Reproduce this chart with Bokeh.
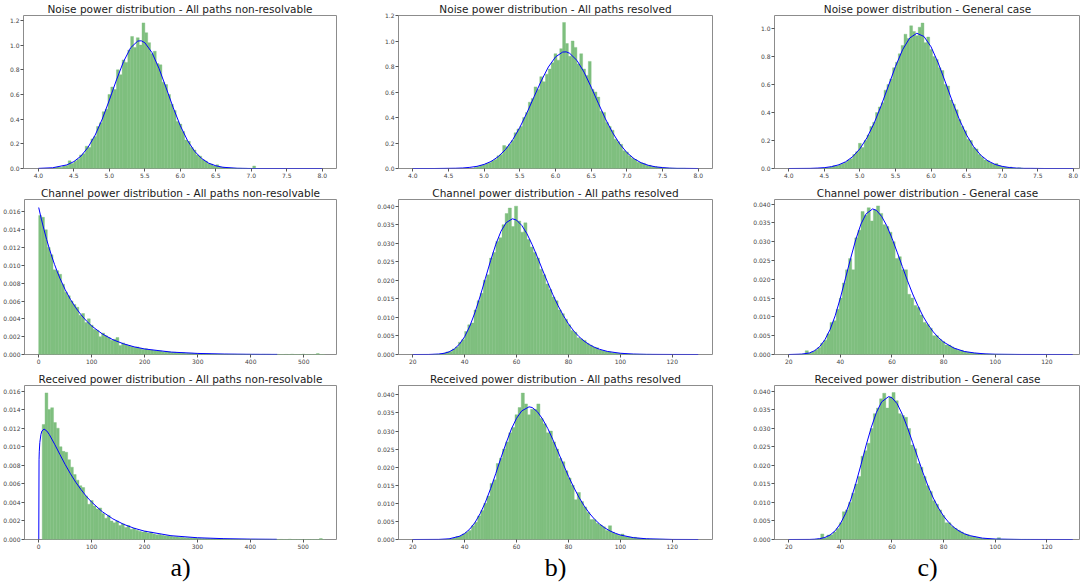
import numpy as np
from bokeh.plotting import figure
from bokeh.layouts import row, column
from bokeh.models import Range1d, FixedTicker, PrintfTickFormatter
from bokeh.embed import file_html
from bokeh.resources import INLINE

# ---------------- titles ----------------
titles = [
    "Noise power distribution - All paths non-resolvable",
    "Noise power distribution - All paths resolved",
    "Noise power distribution - General case",
    "Channel power distribution - All paths non-resolvable",
    "Channel power distribution - All paths resolved",
    "Channel power distribution - General case",
    "Received power distribution - All paths non-resolvable",
    "Received power distribution - All paths resolved",
    "Received power distribution - General case",
]
case_labels = ["a)", "b)", "c)"]

# ---------------- tick labels ----------------
noise_xticks = [4.0, 4.5, 5.0, 5.5, 6.0, 6.5, 7.0, 7.5, 8.0]
noise_yticks_12 = [0.0, 0.2, 0.4, 0.6, 0.8, 1.0, 1.2]
noise_yticks_10 = [0.0, 0.2, 0.4, 0.6, 0.8, 1.0]
nonres_xticks = [0, 100, 200, 300, 400, 500]
nonres_yticks = [0.0, 0.002, 0.004, 0.006, 0.008, 0.010, 0.012, 0.014, 0.016]
res_xticks = [20, 40, 60, 80, 100, 120]
res_yticks = [0.0, 0.005, 0.010, 0.015, 0.020, 0.025, 0.030, 0.035, 0.040]

# ---------------- histograms (bin start, bin width, densities) ----------------
noise_a_start, noise_a_width = 4.22, 0.04
noise_a_hist = [0.008, 0.012, 0.010, 0.020, 0.025, 0.062, 0.040, 0.058, 0.075, 0.110,
                0.120, 0.180, 0.170, 0.240, 0.260, 0.340, 0.370, 0.460, 0.480, 0.600,
                0.660, 0.640, 0.800, 0.760, 0.880, 0.860, 0.960, 1.070, 0.980, 1.060,
                1.000, 1.180, 1.100, 1.020, 0.930, 0.950, 0.850, 0.840, 0.700, 0.680,
                0.600, 0.520, 0.470, 0.380, 0.360, 0.300, 0.230, 0.220, 0.170, 0.150,
                0.110, 0.100, 0.070, 0.060, 0.040, 0.035, 0.020, 0.030, 0.012, 0.010,
                0.008, 0.005, 0.004, 0.003, 0.002, 0.002, 0.001, 0.001, 0.000, 0.001,
                0.020, 0.000]
noise_b_start, noise_b_width = 4.86, 0.04
noise_b_hist = [0.010, 0.015, 0.025, 0.030, 0.040, 0.045, 0.060, 0.070, 0.100,
                0.110, 0.180, 0.170, 0.190, 0.220, 0.280, 0.310, 0.330, 0.400, 0.440,
                0.520, 0.550, 0.640, 0.620, 0.720, 0.680, 0.740, 0.780, 0.830, 0.900,
                0.850, 0.940, 1.145, 0.980, 0.880, 1.000, 0.950, 0.820, 0.900, 0.780,
                0.730, 0.840, 0.620, 0.600, 0.560, 0.450, 0.440, 0.360, 0.330, 0.300,
                0.230, 0.210, 0.190, 0.140, 0.130, 0.100, 0.080, 0.070, 0.050, 0.045,
                0.040, 0.025, 0.025, 0.015, 0.015, 0.010, 0.010, 0.005, 0.004, 0.003,
                0.002, 0.002, 0.001, 0.001, 0.001]
noise_c_start, noise_c_width = 4.46, 0.04
noise_c_hist = [0.003, 0.005, 0.008, 0.012, 0.020, 0.018, 0.028, 0.035, 0.045, 0.060,
                0.070, 0.100, 0.120, 0.180, 0.150, 0.200, 0.240, 0.300, 0.330, 0.400,
                0.440, 0.470, 0.560, 0.600, 0.640, 0.720, 0.760, 0.820, 0.880, 0.960,
                0.930, 1.020, 0.980, 0.950, 1.010, 1.040, 0.900, 0.940, 0.850, 0.800,
                0.780, 0.720, 0.700, 0.600, 0.590, 0.490, 0.460, 0.420, 0.350, 0.300,
                0.270, 0.210, 0.200, 0.150, 0.140, 0.100, 0.080, 0.060, 0.055, 0.040,
                0.030, 0.035, 0.020, 0.015, 0.010, 0.008, 0.010, 0.004, 0.002, 0.005,
                0.002]
chan_a_start, chan_a_width = 0.0, 5.4
chan_a_hist = [0.01560, 0.01540, 0.01400, 0.01200, 0.01120, 0.00950, 0.00940, 0.00900, 0.00790, 0.00700,
               0.00660, 0.00600, 0.00560, 0.00530, 0.00440, 0.00460, 0.00360, 0.00400, 0.00330, 0.00280,
               0.00270, 0.00200, 0.00240, 0.00210, 0.00190, 0.00160, 0.00170, 0.00190, 0.00100, 0.00130,
               0.00110, 0.00100, 0.00090, 0.00080, 0.00085, 0.00070, 0.00060, 0.00065, 0.00050, 0.00050,
               0.00045, 0.00040, 0.00040, 0.00030, 0.00035, 0.00030, 0.00025, 0.00025, 0.00020, 0.00020,
               0.00020, 0.00015, 0.00015, 0.00015, 0.00010, 0.00012, 0.00010, 0.00010, 0.00008, 0.00008,
               0.00006, 0.00006, 0.00005, 0.00005, 0.00004, 0.00004, 0.00003, 0.00003, 0.00003, 0.00002,
               0.00002, 0.00002, 0.00001, 0.00002, 0.00001, 0.00001, 0.00001, 0.00000, 0.00001, 0.00001,
               0.00001, 0.00000, 0.00000, 0.00001, 0.00000, 0.00000, 0.00001, 0.00000, 0.00003, 0.00000,
               0.00000, 0.00000, 0.00003, 0.00000, 0.00000, 0.00000, 0.00000, 0.00010, 0.00000, 0.00000]
chan_b_start, chan_b_width = 28.0, 1.2
chan_b_hist = [0.00005, 0.00010, 0.00020, 0.00040, 0.00070, 0.00080, 0.00150, 0.00200, 0.00330, 0.00400,
               0.00620, 0.00800, 0.00850, 0.01200, 0.01450, 0.01650, 0.02000, 0.02150, 0.02600, 0.02750,
               0.03050, 0.03150, 0.03500, 0.03800, 0.03950, 0.03450, 0.04000, 0.03600, 0.03300, 0.03550,
               0.03100, 0.02900, 0.02750, 0.02600, 0.02300, 0.02150, 0.01900, 0.01750, 0.01550, 0.01450,
               0.01200, 0.01100, 0.00950, 0.00800, 0.00650, 0.00600, 0.00450, 0.00420, 0.00380, 0.00300,
               0.00250, 0.00200, 0.00180, 0.00120, 0.00100, 0.00080, 0.00070, 0.00050, 0.00040, 0.00035,
               0.00030, 0.00020, 0.00015, 0.00012, 0.00010, 0.00008, 0.00005, 0.00005, 0.00003, 0.00003]
chan_c_start, chan_c_width = 24.0, 1.2
chan_c_hist = [0.00005, 0.00010, 0.00100, 0.00040, 0.00070, 0.00120, 0.00180, 0.00300, 0.00380, 0.00550,
               0.00850, 0.00900, 0.01200, 0.01500, 0.01900, 0.02250, 0.02550, 0.02250, 0.03100, 0.03300,
               0.03800, 0.03700, 0.03900, 0.03550, 0.03850, 0.03950, 0.03750, 0.03450, 0.03400, 0.03250,
               0.03000, 0.02550, 0.02600, 0.02250, 0.02250, 0.01600, 0.01500, 0.01300, 0.01250, 0.01050,
               0.00850, 0.00800, 0.00700, 0.00500, 0.00500, 0.00400, 0.00350, 0.00250, 0.00250, 0.00200,
               0.00150, 0.00110, 0.00110, 0.00080, 0.00060, 0.00050, 0.00040, 0.00030, 0.00025, 0.00020,
               0.00015, 0.00010, 0.00008, 0.00006, 0.00005, 0.00004, 0.00003, 0.00002, 0.00002, 0.00001]
recv_a_start, recv_a_width = 6.5, 5.35
recv_a_hist = [0.01240, 0.01580, 0.01400, 0.01420, 0.01260, 0.01200, 0.01000, 0.00950, 0.00940, 0.00860,
               0.00780, 0.00700, 0.00640, 0.00580, 0.00560, 0.00470, 0.00380, 0.00420, 0.00360, 0.00330,
               0.00340, 0.00280, 0.00230, 0.00260, 0.00200, 0.00180, 0.00200, 0.00150, 0.00170, 0.00130,
               0.00150, 0.00110, 0.00120, 0.00100, 0.00090, 0.00080, 0.00090, 0.00070, 0.00080, 0.00060,
               0.00050, 0.00055, 0.00045, 0.00040, 0.00040, 0.00035, 0.00030, 0.00030, 0.00025, 0.00025,
               0.00020, 0.00020, 0.00018, 0.00015, 0.00015, 0.00013, 0.00012, 0.00010, 0.00010, 0.00009,
               0.00008, 0.00007, 0.00007, 0.00010, 0.00006, 0.00005, 0.00005, 0.00004, 0.00004, 0.00003,
               0.00003, 0.00003, 0.00002, 0.00002, 0.00002, 0.00002, 0.00001, 0.00001, 0.00001, 0.00001,
               0.00001, 0.00000, 0.00001, 0.00000, 0.00001, 0.00000, 0.00000, 0.00003, 0.00000, 0.00000,
               0.00000, 0.00000, 0.00000, 0.00000, 0.00000, 0.00000, 0.00000, 0.00000, 0.00010, 0.00000]
recv_b_start, recv_b_width = 33.0, 1.2
recv_b_hist = [0.00010, 0.00020, 0.00040, 0.00080, 0.00100, 0.00150, 0.00200, 0.00250, 0.00380, 0.00480,
               0.00650, 0.00800, 0.01000, 0.01200, 0.01550, 0.01650, 0.02100, 0.02250, 0.02500, 0.02700,
               0.02950, 0.03100, 0.03450, 0.03650, 0.04050, 0.03750, 0.03450, 0.03600, 0.03600, 0.03750,
               0.03350, 0.03200, 0.02950, 0.03000, 0.02700, 0.02500, 0.02250, 0.02150, 0.01900, 0.01700,
               0.01500, 0.01100, 0.01300, 0.01050, 0.00900, 0.00750, 0.00550, 0.00550, 0.00450, 0.00400,
               0.00350, 0.00250, 0.00380, 0.00200, 0.00150, 0.00120, 0.00150, 0.00080, 0.00070, 0.00060,
               0.00060, 0.00040, 0.00030, 0.00025, 0.00020, 0.00015, 0.00010, 0.00008, 0.00005, 0.00004]
recv_c_start, recv_c_width = 30.0, 1.2
recv_c_hist = [0.00005, 0.00020, 0.00150, 0.00050, 0.00120, 0.00130, 0.00200, 0.00300, 0.00450, 0.00750,
               0.00800, 0.01000, 0.01250, 0.01500, 0.01700, 0.02250, 0.02400, 0.02600, 0.03000, 0.03400,
               0.03550, 0.03800, 0.03950, 0.03550, 0.03850, 0.03970, 0.03750, 0.03400, 0.03350, 0.03300,
               0.03000, 0.02550, 0.02450, 0.02050, 0.01950, 0.01700, 0.01450, 0.01300, 0.01050, 0.00950,
               0.00800, 0.00650, 0.00450, 0.00450, 0.00350, 0.00300, 0.00250, 0.00200, 0.00150, 0.00130,
               0.00090, 0.00080, 0.00060, 0.00040, 0.00030, 0.00025, 0.00020, 0.00015, 0.00012, 0.00050,
               0.00008, 0.00006, 0.00004, 0.00003, 0.00002, 0.00002, 0.00001, 0.00001, 0.00001, 0.00001]

# ---------------- fitted curves ----------------
noise_a_cx = [4.0, 4.2, 4.4, 4.5, 4.6, 4.7, 4.8, 4.9, 5.0, 5.1, 5.2, 5.3, 5.4, 5.45, 5.5, 5.6, 5.7,
              5.8, 5.9, 6.0, 6.1, 6.2, 6.3, 6.4, 6.5, 6.6, 6.8, 7.0, 7.5, 8.0]
noise_a_cy = [0.001, 0.006, 0.029, 0.056, 0.101, 0.172, 0.271, 0.401, 0.555, 0.718, 0.867, 0.979, 1.033,
              1.035, 1.019, 0.940, 0.810, 0.653, 0.492, 0.346, 0.228, 0.140, 0.081, 0.043, 0.022, 0.010,
              0.002, 0.000, 0.000, 0.000]
noise_b_cx = [4.0, 4.3, 4.6, 4.7, 4.8, 4.9, 5.0, 5.1, 5.2, 5.3, 5.4, 5.5, 5.6, 5.7, 5.8, 5.9, 6.0, 6.1,
              6.15, 6.2, 6.3, 6.4, 6.5, 6.6, 6.7, 6.8, 6.9, 7.0, 7.1, 7.2, 7.3, 7.4, 7.5, 7.6, 7.7, 7.8, 8.0]
noise_b_cy = [0.0, 0.0, 0.002, 0.004, 0.009, 0.017, 0.032, 0.056, 0.094, 0.149, 0.225, 0.322, 0.437,
              0.563, 0.687, 0.796, 0.875, 0.913, 0.915, 0.903, 0.848, 0.756, 0.638, 0.512, 0.389, 0.281,
              0.193, 0.125, 0.077, 0.045, 0.025, 0.013, 0.007, 0.003, 0.001, 0.001, 0.0]
noise_c_cx = [4.0, 4.3, 4.4, 4.5, 4.6, 4.7, 4.8, 4.9, 5.0, 5.1, 5.2, 5.3, 5.4, 5.5, 5.6, 5.7, 5.8, 5.9,
              6.0, 6.1, 6.2, 6.3, 6.4, 6.5, 6.6, 6.7, 6.8, 6.9, 7.0, 7.1, 7.2, 7.3, 7.4, 7.6, 8.0]
noise_c_cy = [0.0, 0.001, 0.003, 0.006, 0.013, 0.026, 0.048, 0.085, 0.141, 0.220, 0.324, 0.451, 0.590,
              0.729, 0.849, 0.933, 0.967, 0.944, 0.870, 0.755, 0.619, 0.478, 0.348, 0.239, 0.155, 0.094,
              0.054, 0.029, 0.015, 0.007, 0.003, 0.001, 0.001, 0.0, 0.0]
chan_a_cx = [0, 5, 10, 15, 20, 25, 30, 35, 40, 50, 60, 70, 80, 90, 100, 120, 140, 160, 180, 200,
             250, 300, 350, 400, 450]
chan_a_cy = [0.01650, 0.01520, 0.01401, 0.01290, 0.01189, 0.01095, 0.01009, 0.00930, 0.00856, 0.00727,
             0.00617, 0.00524, 0.00445, 0.00377, 0.00320, 0.00231, 0.00166, 0.00120, 0.00086, 0.00062,
             0.00027, 0.00012, 0.00005, 0.00002, 0.00001]
chan_b_cx = [20, 26, 30, 32, 34, 36, 38, 40, 42, 44, 46, 48, 50, 52, 54, 56, 58.4, 60, 62, 64, 66, 68,
             70, 72, 74, 76, 78, 80, 82, 84, 86, 88, 90, 92, 95, 100, 105, 110, 120, 130]
chan_b_cy = [0.0, 0.00001, 0.00012, 0.00031, 0.00071, 0.00148, 0.00279, 0.00481, 0.00768, 0.01139,
             0.01578, 0.02057, 0.02533, 0.02973, 0.03325, 0.03556, 0.0366, 0.03624, 0.03481, 0.03257,
             0.02965, 0.02633, 0.02282, 0.01940, 0.01611, 0.01316, 0.01052, 0.00825, 0.00638, 0.00485,
             0.00363, 0.00268, 0.00195, 0.00140, 0.00083, 0.00033, 0.00012, 0.00004, 0.00001, 0.0]
chan_c_cx = [20, 25, 28, 30, 32, 34, 36, 38, 40, 42, 44, 46, 48, 50, 52.5, 54, 56, 58, 60, 62, 64, 66,
             68, 70, 72, 74, 76, 78, 80, 84, 88, 92, 96, 100, 110, 130]
chan_c_cy = [0.0, 0.0001, 0.0004, 0.0010, 0.0021, 0.0039, 0.0066, 0.0103, 0.0150, 0.0203, 0.0256,
             0.0306, 0.0347, 0.0374, 0.0387, 0.0383, 0.0367, 0.0342, 0.0309, 0.0272, 0.0234, 0.0196,
             0.0161, 0.0130, 0.0102, 0.0079, 0.0060, 0.0045, 0.0033, 0.0017, 0.0008, 0.0004, 0.00017,
             0.00007, 0.00001, 0.0]
recv_a_cx = [0, 0.5, 1, 2, 4, 6, 10, 15, 20, 30, 40, 50, 60, 70, 80, 90, 100, 120, 140, 160, 180, 200,
             250, 300, 350, 400, 450]
recv_a_cy = [0.0, 0.00859, 0.00952, 0.01047, 0.01132, 0.01170, 0.0119, 0.01171, 0.01131, 0.01027,
             0.00916, 0.00808, 0.00708, 0.00617, 0.00537, 0.00465, 0.00403, 0.00300, 0.00223, 0.00165,
             0.00122, 0.00090, 0.00041, 0.00019, 0.00009, 0.00004, 0.00002]
recv_b_cx = [20, 30, 34, 38, 40, 42, 44, 46, 48, 50, 52, 54, 56, 58, 60, 62, 64.8, 66, 68, 70, 72, 74,
             76, 78, 80, 82, 84, 86, 88, 90, 92, 94, 96, 98, 100, 105, 110, 120, 130]
recv_b_cy = [0.0, 0.00003, 0.00019, 0.00089, 0.00167, 0.00291, 0.00473, 0.00721, 0.01033, 0.01408,
             0.01827, 0.02263, 0.02675, 0.03057, 0.03354, 0.03558, 0.0367, 0.03651, 0.03536, 0.03334,
             0.03075, 0.02760, 0.02422, 0.02081, 0.01749, 0.01448, 0.01173, 0.00935, 0.00732, 0.00564,
             0.00428, 0.00321, 0.00237, 0.00173, 0.00124, 0.00051, 0.0002, 0.00002, 0.0]
recv_c_cx = [20, 28, 30, 32, 34, 36, 38, 40, 42, 44, 46, 48, 50, 52, 54, 56, 58.7, 60, 62, 64, 66, 68,
             70, 72, 74, 76, 78, 80, 82, 84, 86, 88, 90, 95, 100, 110, 130]
recv_c_cy = [0.0, 0.00002, 0.00008, 0.00022, 0.00055, 0.00120, 0.00236, 0.00424, 0.00698, 0.01068,
             0.01515, 0.02023, 0.02550, 0.03032, 0.03439, 0.03718, 0.0386, 0.03828, 0.03668, 0.03381,
             0.03022, 0.02620, 0.02210, 0.01802, 0.01440, 0.01119, 0.00850, 0.00630, 0.00458, 0.00327,
             0.00228, 0.00157, 0.00106, 0.00037, 0.00012, 0.00001, 0.0]

# ---------------- axis ranges ----------------
x_ranges = [(3.79, 8.2), (3.8, 8.2), (3.8, 8.10),
            (-26.8, 561.8), (14.5, 135.5), (14.5, 133.0),
            (-27.0, 563.0), (14.5, 135.5), (14.5, 133.0)]
y_ranges = [(0, 1.24), (0, 1.20), (0, 1.094),
            (0, 0.0174), (0, 0.0418), (0, 0.0412),
            (0, 0.0166), (0, 0.0426), (0, 0.0416)]

# ---------------- layout geometry ----------------
COL_W = 360
LEFT_B = [23, 38, 54]
RIGHT_B = [24, 8, 0]
ROW_H = [180, 190, 214]
TOP_B = [14, 19, 15]
BOT_B = [11, 16, 44]

BAR_COLOR = "#7fbf7f"
CURVE_COLOR = "#0000ff"

panels = [
    (noise_a_start, noise_a_width, noise_a_hist, noise_a_cx, noise_a_cy, noise_xticks, noise_yticks_12, "%.1f", "%.1f"),
    (noise_b_start, noise_b_width, noise_b_hist, noise_b_cx, noise_b_cy, noise_xticks, noise_yticks_12, "%.1f", "%.1f"),
    (noise_c_start, noise_c_width, noise_c_hist, noise_c_cx, noise_c_cy, noise_xticks, noise_yticks_10, "%.1f", "%.1f"),
    (chan_a_start, chan_a_width, chan_a_hist, chan_a_cx, chan_a_cy, nonres_xticks, nonres_yticks, "%d", "%.3f"),
    (chan_b_start, chan_b_width, chan_b_hist, chan_b_cx, chan_b_cy, res_xticks, res_yticks, "%d", "%.3f"),
    (chan_c_start, chan_c_width, chan_c_hist, chan_c_cx, chan_c_cy, res_xticks, res_yticks, "%d", "%.3f"),
    (recv_a_start, recv_a_width, recv_a_hist, recv_a_cx, recv_a_cy, nonres_xticks, nonres_yticks, "%d", "%.3f"),
    (recv_b_start, recv_b_width, recv_b_hist, recv_b_cx, recv_b_cy, res_xticks, res_yticks, "%d", "%.3f"),
    (recv_c_start, recv_c_width, recv_c_hist, recv_c_cx, recv_c_cy, res_xticks, res_yticks, "%d", "%.3f"),
]


def make_panel(i):
    r, c = divmod(i, 3)
    start, width, heights, cx, cy, xt, yt, xf, yf = panels[i]
    p = figure(width=COL_W, height=ROW_H[r],
               x_range=Range1d(*x_ranges[i]), y_range=Range1d(*y_ranges[i]),
               output_backend="svg", toolbar_location=None,
               min_border_left=LEFT_B[c], min_border_right=RIGHT_B[c],
               min_border_top=TOP_B[r], min_border_bottom=BOT_B[r])
    edges = start + width * np.arange(len(heights) + 1)
    p.quad(left=edges[:-1], right=edges[1:], bottom=0, top=heights,
           fill_color=BAR_COLOR, line_color=BAR_COLOR, line_width=0.4)
    p.line(cx, cy, line_color=CURVE_COLOR, line_width=1.0)

    p.title.text = titles[i]
    p.title.align = "center"
    p.title.text_font = "DejaVu Sans"
    p.title.text_font_size = "10.5px"
    p.title.text_font_style = "normal"
    p.title.text_color = "#1a1a1a"
    p.title.standoff = 1

    p.xgrid.visible = False
    p.ygrid.visible = False
    p.outline_line_color = "#8c8c8c"
    p.outline_line_width = 1
    p.background_fill_color = "white"

    for ax, ticks, fmt in ((p.xaxis[0], xt, xf), (p.yaxis[0], yt, yf)):
        ax.ticker = FixedTicker(ticks=ticks)
        ax.formatter = PrintfTickFormatter(format=fmt)
        ax.axis_line_color = None
        ax.major_tick_line_color = "#555555"
        ax.major_tick_in = 0
        ax.major_tick_out = 3
        ax.minor_tick_line_color = None
        ax.major_label_text_font = "DejaVu Sans"
        ax.major_label_text_font_size = "6px"
        ax.major_label_text_color = "#444444"
        ax.major_label_standoff = 1

    if r == 2:
        ax = p.xaxis[0]
        ax.axis_label = case_labels[c]
        ax.axis_label_text_font = "Liberation Serif"
        ax.axis_label_text_font_size = "26px"
        ax.axis_label_text_font_style = "normal"
        ax.axis_label_text_color = "#000000"
        ax.axis_label_standoff = 1
    return p


figs = [make_panel(i) for i in range(9)]
layout = column(row(*figs[0:3]), row(*figs[3:6]), row(*figs[6:9]))

open("out.html", "w").write(file_html(layout, INLINE))
